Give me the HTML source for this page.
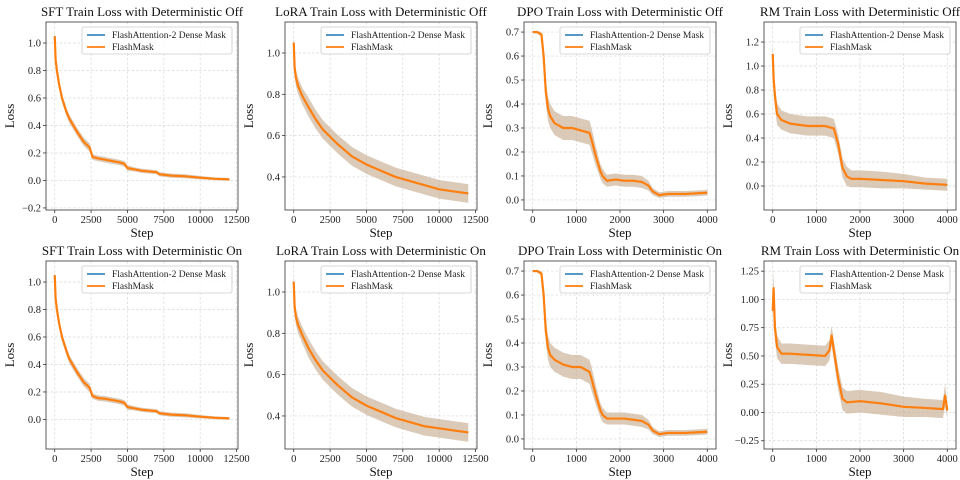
<!DOCTYPE html>
<html><head><meta charset="utf-8">
<style>
html,body{margin:0;padding:0;background:#fff;}
svg{display:block;font-family:"Liberation Serif",serif;}
</style></head>
<body>
<svg id="fig" width="960" height="480" viewBox="0 0 960 480" xmlns="http://www.w3.org/2000/svg"></svg>
<script>
// ---- data ----
const sftX = [0,60,150,300,500,800,1000,1500,2000,2400,2600,3000,3500,4000,4500,4800,5000,5500,6000,6500,7000,7200,8000,9000,10000,11000,12000];
const sftOff = [1.05,0.88,0.8,0.7,0.6,0.5,0.45,0.36,0.28,0.24,0.17,0.16,0.15,0.14,0.13,0.12,0.09,0.08,0.07,0.065,0.06,0.045,0.035,0.03,0.02,0.012,0.008];
const sftOn  = [1.05,0.88,0.8,0.7,0.6,0.5,0.44,0.35,0.27,0.23,0.17,0.155,0.15,0.14,0.13,0.12,0.09,0.08,0.07,0.065,0.06,0.045,0.035,0.03,0.02,0.012,0.008];
const sftBand = [0.04,0.04,0.04,0.03,0.03,0.03,0.03,0.03,0.03,0.03,0.02,0.02,0.02,0.02,0.02,0.02,0.02,0.015,0.015,0.015,0.015,0.015,0.015,0.015,0.012,0.01,0.01];

const loraX = [0,60,150,300,600,1000,1500,2000,3000,4000,5000,6000,7000,8000,9000,10000,11000,12000];
const loraOff = [1.05,0.93,0.88,0.84,0.79,0.74,0.68,0.63,0.56,0.5,0.46,0.43,0.4,0.38,0.36,0.34,0.33,0.32];
const loraOn  = [1.05,0.93,0.88,0.84,0.79,0.73,0.67,0.62,0.55,0.49,0.45,0.42,0.39,0.37,0.35,0.34,0.33,0.32];
const loraBand = [0.04,0.04,0.04,0.04,0.04,0.045,0.045,0.045,0.045,0.045,0.045,0.045,0.045,0.045,0.045,0.045,0.045,0.045];

const dpoX = [0,100,200,250,300,350,400,500,700,900,1100,1300,1350,1450,1550,1600,1700,1900,2100,2300,2500,2650,2750,2900,3100,3500,4000];
const dpoOff = [0.7,0.7,0.69,0.6,0.45,0.38,0.35,0.32,0.3,0.3,0.29,0.28,0.25,0.18,0.12,0.1,0.08,0.085,0.08,0.08,0.075,0.06,0.035,0.02,0.025,0.025,0.03];
const dpoOn  = [0.7,0.7,0.69,0.6,0.45,0.38,0.35,0.33,0.31,0.3,0.3,0.28,0.25,0.18,0.12,0.1,0.085,0.085,0.085,0.08,0.075,0.06,0.035,0.02,0.025,0.025,0.03];
const dpoBand = [0.005,0.005,0.01,0.03,0.05,0.05,0.05,0.05,0.05,0.05,0.05,0.05,0.05,0.04,0.03,0.03,0.025,0.025,0.025,0.025,0.025,0.02,0.015,0.012,0.012,0.012,0.012];

const rmOffX = [0,20,50,100,200,400,800,1200,1400,1500,1600,1700,1800,2000,2500,3000,3500,4000];
const rmOff = [1.1,0.9,0.75,0.6,0.55,0.52,0.5,0.5,0.48,0.35,0.15,0.08,0.06,0.06,0.05,0.04,0.02,0.01];
const rmOffBand = [0.1,0.1,0.1,0.09,0.08,0.08,0.08,0.08,0.08,0.08,0.08,0.08,0.07,0.07,0.07,0.06,0.05,0.05];
const rmOnX = [0,20,50,100,200,400,800,1200,1300,1350,1400,1500,1600,1700,2000,2500,3000,3500,3900,3950,4000];
const rmOn = [0.9,1.1,0.75,0.58,0.52,0.52,0.51,0.5,0.55,0.68,0.55,0.3,0.12,0.09,0.1,0.08,0.05,0.04,0.03,0.15,0.02];
const rmOnBand = [0.1,0.15,0.12,0.1,0.09,0.09,0.09,0.09,0.09,0.09,0.09,0.1,0.1,0.1,0.1,0.1,0.09,0.08,0.08,0.1,0.06];

const bigTicks = [0,2500,5000,7500,10000,12500];
const smallTicks = [0,1000,2000,3000,4000];

const charts = [
 {t:"SFT Train Loss with Deterministic Off",x:sftX,fa:sftOff,fm:sftOff,b:sftBand,xl:[-600,12600],yl:[-0.215,1.153],xt:bigTicks,yt:[-0.2,0,0.2,0.4,0.6,0.8,1.0],yd:1,col:0,row:0},
 {t:"LoRA Train Loss with Deterministic Off",x:loraX,fa:loraOff,fm:loraOff,b:loraBand,xl:[-600,12600],yl:[0.24,1.15],xt:bigTicks,yt:[0.4,0.6,0.8,1.0],yd:1,col:1,row:0},
 {t:"DPO Train Loss with Deterministic Off",x:dpoX,fa:dpoOff,fm:dpoOff,b:dpoBand,xl:[-200,4200],yl:[-0.042,0.742],xt:smallTicks,yt:[0,0.1,0.2,0.3,0.4,0.5,0.6,0.7],yd:1,col:2,row:0},
 {t:"RM Train Loss with Deterministic Off",x:rmOffX,fa:rmOff,fm:rmOff,b:rmOffBand,xl:[-200,4200],yl:[-0.2,1.367],xt:smallTicks,yt:[0,0.2,0.4,0.6,0.8,1.0,1.2],yd:1,col:3,row:0},
 {t:"SFT Train Loss with Deterministic On",x:sftX,fa:sftOn,fm:sftOn,b:sftBand,xl:[-600,12600],yl:[-0.215,1.153],xt:bigTicks,yt:[0,0.2,0.4,0.6,0.8,1.0],yd:1,col:0,row:1},
 {t:"LoRA Train Loss with Deterministic On",x:loraX,fa:loraOn,fm:loraOn,b:loraBand,xl:[-600,12600],yl:[0.24,1.15],xt:bigTicks,yt:[0.4,0.6,0.8,1.0],yd:1,col:1,row:1},
 {t:"DPO Train Loss with Deterministic On",x:dpoX,fa:dpoOn,fm:dpoOn,b:dpoBand,xl:[-200,4200],yl:[-0.042,0.742],xt:smallTicks,yt:[0,0.1,0.2,0.3,0.4,0.5,0.6,0.7],yd:1,col:2,row:1},
 {t:"RM Train Loss with Deterministic On",x:rmOnX,fa:rmOn,fm:rmOn,b:rmOnBand,xl:[-200,4200],yl:[-0.323,1.34],xt:smallTicks,yt:[-0.25,0,0.25,0.5,0.75,1.0,1.25],yd:2,col:3,row:1}
];
const colLeft=[46,285,524,764], rowTop=[22,261], W=192, H=188;
const NS="http://www.w3.org/2000/svg";
const fig=document.getElementById('fig');
function mk(tag,attrs,parent,text){const e=document.createElementNS(NS,tag);for(const k in attrs)e.setAttribute(k,attrs[k]);if(text!==undefined)e.textContent=text;(parent||fig).appendChild(e);return e;}
function fmtX(v){return String(v);}
charts.forEach((c,i)=>{
  const L=colLeft[c.col],T=rowTop[c.row];
  const g=mk('g',{});
  
  
  const sx=v=>L+(v-c.xl[0])/(c.xl[1]-c.xl[0])*W;
  const sy=v=>T+H-(v-c.yl[0])/(c.yl[1]-c.yl[0])*H;
  c.xt.forEach(v=>{const X=sx(v);
    mk('line',{x1:X,x2:X,y1:T,y2:T+H,stroke:'#d8d8d8','stroke-width':0.7,'stroke-dasharray':'2.5,2'},g);
    mk('line',{x1:X,x2:X,y1:T+H,y2:T+H+3,stroke:'#333','stroke-width':0.8},g);
    const tl=mk('text',{x:X,y:T+H+13,'text-anchor':'middle','font-size':10.5,fill:'#222'},g,fmtX(v));
    
    
  });
  c.yt.forEach(v=>{const Y=sy(v);
    mk('line',{x1:L,x2:L+W,y1:Y,y2:Y,stroke:'#d8d8d8','stroke-width':0.7,'stroke-dasharray':'2.5,2'},g);
    mk('line',{x1:L-3,x2:L,y1:Y,y2:Y,stroke:'#333','stroke-width':0.8},g);
    const s=(v<0?'\u2212':'')+Math.abs(v).toFixed(c.yd);
    const tl=mk('text',{x:L-5,y:Y+3.5,'text-anchor':'end','font-size':10.5,fill:'#222'},g,s);
    
    
  });
  let up=c.x.map((x,k)=>sx(x)+','+sy(c.fm[k]+c.b[k]));
  let lo=c.x.map((x,k)=>sx(x)+','+sy(c.fm[k]-c.b[k])).reverse();
  const band=mk('polygon',{points:up.concat(lo).join(' '),fill:'#c9ae92',opacity:0.65},g);
  
  
  const pa=mk('polyline',{points:c.x.map((x,k)=>sx(x)+','+sy(c.fa[k])).join(' '),fill:'none',stroke:'#1f77b4','stroke-width':1.6},g);
  
  
  const pm=mk('polyline',{points:c.x.map((x,k)=>sx(x)+','+sy(c.fm[k])).join(' '),fill:'none',stroke:'#ff7f0e','stroke-width':2.2,'stroke-linejoin':'round'},g);
  
  
  mk('rect',{x:L,y:T,width:W,height:H,fill:'none',stroke:'#333','stroke-width':0.8},g);
  const lg=mk('g',{},g);
  
  
  const lx=L+36,ly=T+5;
  mk('rect',{x:lx,y:ly,width:W-42,height:27,fill:'#fff','fill-opacity':0.85,stroke:'#ccc','stroke-width':0.8,rx:2},lg);
  mk('line',{x1:lx+5,x2:lx+23,y1:ly+8,y2:ly+8,stroke:'#1f77b4','stroke-width':1.6},lg);
  mk('text',{x:lx+30,y:ly+11,'font-size':9.5,fill:'#222'},lg,'FlashAttention-2 Dense Mask');
  mk('line',{x1:lx+5,x2:lx+23,y1:ly+20,y2:ly+20,stroke:'#ff7f0e','stroke-width':1.8},lg);
  mk('text',{x:lx+30,y:ly+23,'font-size':9.5,fill:'#222'},lg,'FlashMask');
  const tt=mk('text',{x:L+W/2,y:T-6,'text-anchor':'middle','font-size':13,fill:'#111'},g,c.t);
  
  
  const xl=mk('text',{x:L+W/2,y:T+H+27,'text-anchor':'middle','font-size':13,fill:'#111'},g,'Step');
  
  
  const yx=L-32,yy=T+H/2;
  const yl=mk('text',{x:yx,y:yy,'text-anchor':'middle','font-size':13,fill:'#111',transform:'rotate(-90 '+yx+' '+yy+')'},g,'Loss');
  
  
});
</script>
</body></html>
